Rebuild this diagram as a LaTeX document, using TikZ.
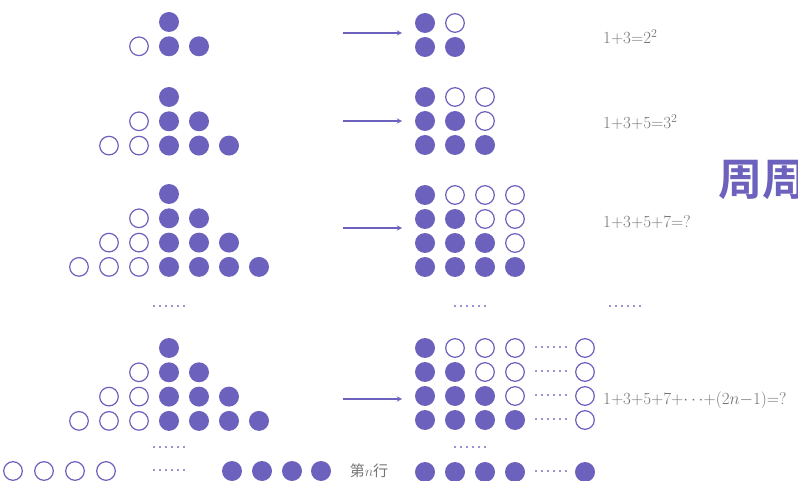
\documentclass[tikz,border=0pt]{standalone}
\usepackage{fontspec}
\newfontfamily\cjk{Noto Sans CJK SC}
\newfontfamily\cjkheavy{Noto Sans CJK SC}[UprightFont=* Bold]
\definecolor{dotpurple}{RGB}{108,98,190}
\definecolor{textgray}{RGB}{115,115,115}
\tikzset{
  fdot/.style={fill=dotpurple},
  odot/.style={draw=dotpurple,line width=1.2pt,fill=white},
  sixdots/.style={text=dotpurple,font=\fontsize{24}{24}\selectfont,inner sep=0pt},
  eqtext/.style={text=textgray,font=\fontsize{17}{19}\selectfont,anchor=west,inner sep=0pt},
  goes/.style={->,draw=dotpurple,line width=1.3pt}
}
\begin{document}
\begin{tikzpicture}[x=1pt,y=-1pt,>=stealth]
  \useasboundingbox (0,0) rectangle (798,481);
  % triangles: open dots on the left, filled dots from the middle
  \foreach \k/\ytop in {2/22,3/97,4/194,4/348} {
    \foreach \r in {1,...,\k} {
      \pgfmathsetmacro\yy{\ytop+24.3*(\r-1)}
      \foreach \j in {1,...,\r} {
        \fill[fdot] (169+30*\j-30,\yy) circle (10pt);
        \ifnum\j<\r
          \draw[odot] (169-30*\j,\yy) circle (9.3pt);
        \fi
      }
    }
  }
  % squares after turning the open dots over
  \foreach \k/\ytop in {2/23,3/97,4/195,4/348} {
    \foreach \r in {1,...,\k} {
      \pgfmathsetmacro\yy{\ytop+24*(\r-1)}
      \foreach \c in {1,...,\k} {
        \ifnum\c>\r
          \draw[odot] (395+30*\c,\yy) circle (9.3pt);
        \else
          \fill[fdot] (395+30*\c,\yy) circle (10pt);
        \fi
      }
    }
  }
  % last square: dots out to the n-th column
  \foreach \r in {1,...,4} {
    \pgfmathsetmacro\yy{348+24*(\r-1)}
    \node[sixdots] (rowdots\r) at (551,\yy) {......};
    \draw[odot] (585,\yy) circle (9.3pt);
  }
  \node[sixdots] (rowdotsn) at (551,472) {......};
  \foreach \c in {1,...,4}
    \fill[fdot] (395+30*\c,472) circle (10pt);
  \fill[fdot] (585,472) circle (10pt);
  % n-th row of the last triangle
  \foreach \x in {13,44,75,106}
    \draw[odot] (\x,471) circle (9.3pt);
  \foreach \x in {232,262,292,321}
    \fill[fdot] (\x,471) circle (10pt);
  \node[sixdots] (tridotsn) at (169,471) {......};
  \node[text=textgray,font=\cjk\fontsize{15}{15}\selectfont,inner sep=0pt] (rown) at (369,471) {第$n$行};
  % dots between the cases
  \node[sixdots] (tridots) at (169,307) {......};
  \node[sixdots] (sqdots) at (470,307) {......};
  \node[sixdots] (eqdots) at (625,307) {......};
  \node[sixdots] (tridotsb) at (169,448) {......};
  \node[sixdots] (sqdotsb) at (470,448) {......};
  % arrows
  \foreach \i/\yy in {1/33,2/121,3/228,4/399} {
    \coordinate (from\i) at (343,\yy);
    \coordinate (to\i) at (402,\yy);
    \draw[goes] (from\i) -- (to\i);
  }
  % sums
  \node[eqtext] (sumtwo) at (603,37) {1+3=2\textsuperscript{2}};
  \node[eqtext] (sumthree) at (603,122) {1+3+5=3\textsuperscript{2}};
  \node[eqtext] (sumfour) at (603,222) {1+3+5+7=?};
  \node[eqtext] (sumn) at (603,400) {1+3+5+7+$\cdots$+(2$n$$-$1)=?};
  \node[text=dotpurple,font=\cjkheavy\fontsize{44}{44}\selectfont,anchor=west,inner sep=0pt] (title) at (718,180) {周周};
\end{tikzpicture}
\end{document}
